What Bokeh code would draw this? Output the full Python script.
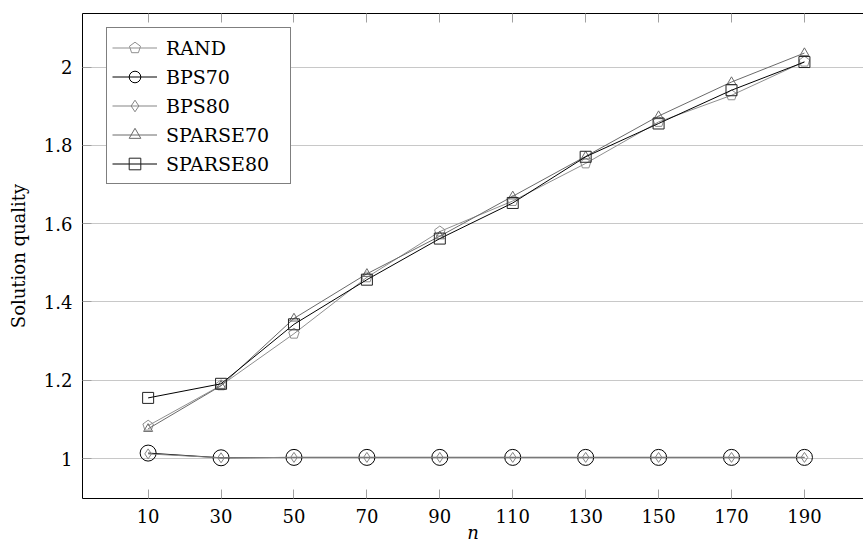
from bokeh.plotting import figure
from bokeh.models import (FixedTicker, LinearAxis, Range1d, Legend, LegendItem,
                          NumeralTickFormatter)
from bokeh.embed import file_html
from bokeh.resources import INLINE

# ---- data ----
n_vals = [10, 30, 50, 70, 90, 110, 130, 150, 170, 190]
rand = [1.084, 1.187, 1.319, 1.463, 1.580, 1.658, 1.754, 1.860, 1.928, 2.014]
bps70 = [1.014, 1.002, 1.003, 1.003, 1.003, 1.003, 1.003, 1.003, 1.003, 1.003]
bps80 = [1.012, 1.002, 1.003, 1.003, 1.003, 1.003, 1.003, 1.003, 1.003, 1.003]
sparse70 = [1.076, 1.186, 1.358, 1.472, 1.568, 1.670, 1.772, 1.875, 1.962, 2.036]
sparse80 = [1.155, 1.191, 1.343, 1.457, 1.562, 1.653, 1.771, 1.856, 1.941, 2.013]
y_ticks = [1.0, 1.2, 1.4, 1.6, 1.8, 2.0]
series_names = ["RAND", "BPS70", "BPS80", "SPARSE70", "SPARSE80"]
x_title = "n"
y_title = "Solution quality"

FONT = "DejaVu Serif"
FS = "18px"

p = figure(width=863, height=545, output_backend="svg", toolbar_location=None,
           x_range=Range1d(-8, 206.2), y_range=Range1d(0.898, 2.137),
           min_border_left=82, min_border_right=0, min_border_top=13,
           min_border_bottom=47, x_axis_label=x_title, y_axis_label=y_title)
p.outline_line_color = None
p.background_fill_color = "white"
p.border_fill_color = "white"

p.xgrid.visible = False
p.ygrid.ticker = FixedTicker(ticks=y_ticks)
p.ygrid.grid_line_color = "#c8c8c8"
p.ygrid.grid_line_width = 1

for ax in (p.xaxis[0], p.yaxis[0]):
    ax.axis_line_color = "black"
    ax.axis_line_width = 1
    ax.major_tick_in = 9
    ax.major_tick_out = 0
    ax.major_tick_line_color = "#a0a0a0"
    ax.minor_tick_line_color = None
    ax.major_label_text_font = FONT
    ax.major_label_text_font_size = FS
    ax.major_label_text_color = "black"
    ax.axis_label_text_font = FONT
    ax.axis_label_text_font_size = FS
    ax.axis_label_text_color = "black"

p.xaxis.ticker = FixedTicker(ticks=n_vals)
p.xaxis.major_label_standoff = 10
p.xaxis.axis_label_standoff = -4
p.xaxis.axis_label_text_line_height = 0.5
p.xaxis.axis_label_text_font_style = "italic"
p.yaxis.ticker = FixedTicker(ticks=y_ticks)
p.yaxis.formatter = NumeralTickFormatter(format="0.[0]")
p.yaxis.major_label_standoff = 10
p.yaxis.axis_label_standoff = 12
p.yaxis.axis_label_text_font_style = "normal"

top = LinearAxis(ticker=FixedTicker(ticks=n_vals), major_tick_in=9, major_tick_out=0,
                 major_tick_line_color="#a0a0a0", minor_tick_line_color=None,
                 major_label_text_font_size="1px", major_label_text_alpha=0,
                 major_label_standoff=0, axis_line_color="black")
p.add_layout(top, "above")

LW = 1.0
r_rand_l = p.line(n_vals, rand, line_color="#8f8f8f", line_width=LW)
r_rand_m = p.ngon(x=n_vals, y=rand, radius=5.5, radius_units="screen", n=5,
                  angle=0, fill_color=None, line_color="#8f8f8f", line_width=LW)
r_b70_l = p.line(n_vals, bps70, line_color="black", line_width=LW)
r_b70_m = p.scatter(n_vals, bps70, marker="circle", size=16, fill_color=None,
                    line_color="black", line_width=LW)
r_b80_l = p.line(n_vals, bps80, line_color="#858585", line_width=LW)
r_b80_m = p.scatter(n_vals, bps80, marker="diamond", size=10, fill_color=None,
                    line_color="#858585", line_width=LW)
r_s70_l = p.line(n_vals, sparse70, line_color="#6a6a6a", line_width=LW)
r_s70_m = p.scatter(n_vals, sparse70, marker="triangle", size=9, fill_color=None,
                    line_color="#6a6a6a", line_width=LW)
r_s80_l = p.line(n_vals, sparse80, line_color="black", line_width=LW)
r_s80_m = p.scatter(n_vals, sparse80, marker="square", size=11, fill_color=None,
                    line_color="#222222", line_width=LW)

items = [
    LegendItem(label=series_names[0], renderers=[r_rand_l, r_rand_m]),
    LegendItem(label=series_names[1], renderers=[r_b70_l, r_b70_m]),
    LegendItem(label=series_names[2], renderers=[r_b80_l, r_b80_m]),
    LegendItem(label=series_names[3], renderers=[r_s70_l, r_s70_m]),
    LegendItem(label=series_names[4], renderers=[r_s80_l, r_s80_m]),
]
legend = Legend(items=items, location=(24, 314), margin=0, padding=5, spacing=0,
                glyph_width=45, glyph_height=29, label_standoff=9, label_width=119,
                label_text_font=FONT, label_text_font_size="19px", label_text_color="black",
                border_line_color="black", border_line_width=1,
                background_fill_color="white", background_fill_alpha=1)
p.add_layout(legend)

open("out.html", "w").write(file_html(p, INLINE))
